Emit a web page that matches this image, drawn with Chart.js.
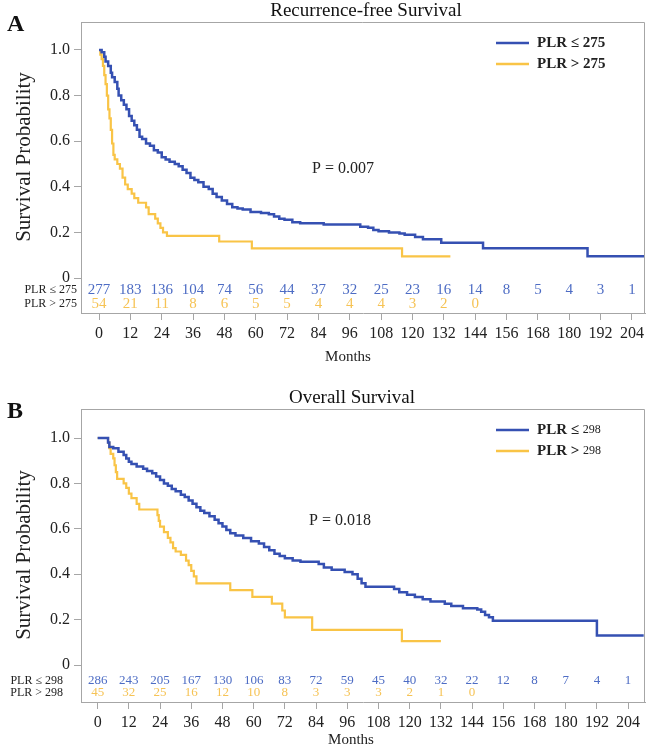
<!DOCTYPE html>
<html><head><meta charset="utf-8">
<script src="https://cdn.jsdelivr.net/npm/chart.js@4"></script>
<style>
html,body{margin:0;padding:0;background:#fff;}
#wrap{position:relative;width:652px;height:750px;overflow:hidden;}
canvas{position:absolute;left:0;}
</style></head><body>
<div id="wrap">
<canvas id="cA" width="652" height="375" style="top:0px"></canvas>
<canvas id="cB" width="652" height="375" style="top:375px"></canvas>
</div>
<script>
// ---------- DATA ----------
const monthTicks = [0,12,24,36,48,60,72,84,96,108,120,132,144,156,168,180,192,204];
const probTicks = [0,0.2,0.4,0.6,0.8,1.0];

// Panel A: Recurrence-free survival
const rfsLowTime = [0,1,2,2.5,3.5,4.5,5,6,7,7.5,8.5,9.5,10.5,11.5,12.5,13.5,14.5,15.5,16.5,18,19.5,21,22.5,24,25.5,27,29,30.5,32,33.5,35,36.5,38,40,42,43.5,45,47,49,51,53,55,58,62,65,67,69,71,74,77,86,100,103,105,107,111,115,117,121,124,131,147,187,209.5];
const rfsLowSurv = [1.0,0.99,0.97,0.95,0.93,0.90,0.88,0.86,0.83,0.80,0.78,0.76,0.74,0.71,0.69,0.67,0.65,0.62,0.61,0.59,0.58,0.56,0.55,0.53,0.52,0.51,0.50,0.49,0.475,0.46,0.44,0.43,0.42,0.40,0.39,0.37,0.355,0.34,0.325,0.31,0.305,0.30,0.29,0.285,0.28,0.27,0.26,0.255,0.245,0.24,0.235,0.225,0.22,0.21,0.205,0.20,0.195,0.19,0.18,0.17,0.155,0.13,0.095,0.095];
const rfsHighTime = [0,0.5,1,1.5,2,2.5,3,3.5,4,4.5,5,5.5,6,7,8,9,10,11,12.5,13.5,15,18,19,21.5,22.5,23.5,24.5,26,46,58.5,116,134.5];
const rfsHighSurv = [1.0,0.98,0.96,0.93,0.89,0.85,0.80,0.74,0.70,0.65,0.59,0.54,0.52,0.50,0.48,0.44,0.41,0.39,0.37,0.35,0.33,0.31,0.28,0.26,0.24,0.22,0.20,0.185,0.16,0.13,0.095,0.095];
const rfsLowRisk = [277,183,136,104,74,56,44,37,32,25,23,16,14,8,5,4,3,1];
const rfsHighRisk = [54,21,11,8,6,5,5,4,4,4,3,2,0];

// Panel B: Overall survival
const osLowTime = [0,4,4.5,6,8,10,11,12,13,15,17.5,19,21,22.5,24,25.5,27,28.5,30,32,33.5,35,36.5,38,39.5,41,43,45,46.5,48,49.5,51,53,56,59,62,64,66,68,70,72,75,78,85,87,90,95,98,100,101.5,103,114,116,119,122,125,128,133.5,136,140.5,146,147.5,149,150.5,152,192,210];
const osLowSurv = [1.0,0.98,0.96,0.955,0.94,0.925,0.91,0.895,0.885,0.875,0.865,0.855,0.845,0.83,0.815,0.80,0.79,0.775,0.765,0.75,0.74,0.725,0.71,0.695,0.68,0.67,0.655,0.64,0.625,0.61,0.595,0.58,0.57,0.56,0.545,0.535,0.52,0.505,0.49,0.48,0.47,0.46,0.455,0.445,0.43,0.42,0.41,0.40,0.38,0.36,0.345,0.335,0.32,0.31,0.30,0.29,0.28,0.27,0.26,0.25,0.245,0.235,0.22,0.21,0.195,0.13,0.13];
const osHighTime = [0,4,4.5,5,6,6.5,7,7.5,10,11,12,13,15,16,23,23.5,24,25.5,27,28,29,30,32,34,35,36,37,38,51,59.5,67,71,72,82.5,117,132];
const osHighSurv = [1.0,0.98,0.955,0.93,0.91,0.88,0.85,0.82,0.80,0.78,0.755,0.735,0.71,0.685,0.66,0.635,0.61,0.585,0.56,0.54,0.515,0.50,0.485,0.46,0.44,0.415,0.39,0.36,0.33,0.30,0.27,0.24,0.21,0.155,0.105,0.105];
const osLowRisk = [286,243,205,167,130,106,83,72,59,45,40,32,22,12,8,7,4,1];
const osHighRisk = [45,32,25,16,12,10,8,3,3,3,2,1,0];

// ---------- STYLE ----------
const SERIF = "'Liberation Serif','DejaVu Serif',serif";
const BLUE = '#3550b2';
const YELLOW = '#f9c446';
const BLUE_TXT = '#4d6cc4';
const YELLOW_TXT = '#f6c355';
const AXIS = '#a6a6a6';

function pts(t, s){ return t.map((v,i)=>({x:v, y:s[i]})); }

const panelPlugin = {
  id: 'panelPlugin',
  afterDraw(chart, args, o){
    const {ctx, chartArea:a, scales:{x, y}} = chart;
    ctx.save();
    // box top/right
    ctx.strokeStyle = AXIS; ctx.lineWidth = 1;
    ctx.beginPath();
    ctx.moveTo(a.left, a.top+0.5); ctx.lineTo(a.right-0.5, a.top+0.5); ctx.lineTo(a.right-0.5, a.bottom);
    ctx.stroke();
    // panel letter
    ctx.fillStyle = '#111';
    ctx.font = 'bold 24px ' + SERIF;
    ctx.textAlign = 'left'; ctx.textBaseline = 'middle';
    ctx.fillText(o.letter, 7, o.letterY);
    // title
    ctx.font = '19px ' + SERIF;
    ctx.textAlign = 'center';
    ctx.fillText(o.title, o.titleX, o.titleY);
    // y axis title
    ctx.save();
    ctx.translate(24, o.yTitleY);
    ctx.rotate(-Math.PI/2);
    ctx.font = '21px ' + SERIF;
    ctx.fillStyle = '#222';
    ctx.textAlign = 'center'; ctx.textBaseline = 'middle';
    ctx.fillText('Survival Probability', 0, 0);
    ctx.restore();
    // x axis title
    ctx.font = '15px ' + SERIF; ctx.fillStyle = '#222';
    ctx.textAlign = 'center';
    ctx.fillText('Months', o.monthsX, o.monthsY);
    // P value
    ctx.font = '16px ' + SERIF; ctx.fillStyle = '#222';
    ctx.fillText(o.pText, o.pX, o.pY);
    // legend
    const ds = chart.data.datasets;
    o.legendY.forEach((ly, i) => {
      ctx.strokeStyle = ds[i].borderColor; ctx.lineWidth = 2.5;
      ctx.beginPath(); ctx.moveTo(496, ly); ctx.lineTo(529, ly); ctx.stroke();
      ctx.fillStyle = '#222';
      ctx.textAlign = 'left';
      ctx.font = 'bold 15px ' + SERIF;
      const lbl = o.legendLabels[i];
      ctx.fillText(lbl[0], 537, ly);
      const w = ctx.measureText(lbl[0]).width;
      ctx.font = o.legendNumFont;
      ctx.fillText(lbl[1], 537 + w, ly);
    });
    // numbers at risk
    ctx.textAlign = 'center'; ctx.textBaseline = 'middle';
    ctx.font = o.riskFont;
    o.risk.forEach((row, r) => {
      ctx.fillStyle = r === 0 ? BLUE_TXT : YELLOW_TXT;
      const ry = a.bottom - o.riskOffsets[r];
      row.forEach((n, i) => ctx.fillText(String(n), x.getPixelForValue(monthTicks[i]), ry));
    });
    // row labels
    ctx.font = o.rowLabelFont; ctx.fillStyle = '#222'; ctx.textAlign = 'right';
    o.rowLabels.forEach((t, r) => ctx.fillText(t, o.rowLabelRight, a.bottom - o.riskOffsets[r]));
    ctx.restore();
  }
};

function makeChart(id, cfg){
  return new Chart(document.getElementById(id), {
    type: 'line',
    data: {
      datasets: [
        {data: pts(cfg.lowT, cfg.lowS), borderColor: BLUE, borderWidth: 2.5, stepped: true, pointRadius: 0, fill: false},
        {data: pts(cfg.highT, cfg.highS), borderColor: YELLOW, borderWidth: 2.2, stepped: true, pointRadius: 0, fill: false}
      ]
    },
    options: {
      responsive: false, animation: false, devicePixelRatio: 1,
      layout: {padding: {left: 36, right: 7, top: cfg.top, bottom: cfg.bottom}},
      plugins: {legend: {display: false}, tooltip: {enabled: false}, panelPlugin: cfg.plugin},
      scales: {
        x: {
          type: 'linear', min: cfg.xMin, max: cfg.xMax,
          afterBuildTicks: s => { s.ticks = monthTicks.map(v => ({value: v})); },
          afterFit: s => { s.height = 40; },
          ticks: {font: {family: SERIF, size: 16}, color: '#222', padding: 4, maxRotation: 0, autoSkip: false},
          grid: {drawOnChartArea: false, drawTicks: true, tickLength: 7, color: AXIS},
          border: {display: true, color: AXIS}
        },
        y: {
          type: 'linear', min: cfg.yMin, max: cfg.yMax,
          afterBuildTicks: s => { s.ticks = probTicks.map(v => ({value: v})); },
          afterFit: s => { s.width = 45; },
          ticks: {font: {family: SERIF, size: 16}, color: '#222', padding: 4,
                  callback: v => v === 0 ? '0' : v.toFixed(1)},
          grid: {drawOnChartArea: false, drawTicks: true, tickLength: 7, color: AXIS},
          border: {display: true, color: AXIS}
        }
      }
    },
    plugins: [panelPlugin]
  });
}

makeChart('cA', {
  lowT: rfsLowTime, lowS: rfsLowSurv, highT: rfsHighTime, highS: rfsHighSurv,
  top: 22, bottom: 22, xMin: -6.9, xMax: 209, yMin: -0.1535, yMax: 1.1228,
  plugin: {
    letter: 'A', letterY: 25, title: 'Recurrence-free Survival', titleX: 366, titleY: 11,
    yTitleY: 157, monthsX: 348, monthsY: 357, pText: 'P = 0.007', pX: 343, pY: 169,
    legendY: [43, 64], legendLabels: [['PLR \u2264 275',''],['PLR > 275','']], legendNumFont: 'bold 15px ' + SERIF,
    risk: [rfsLowRisk, rfsHighRisk], riskOffsets: [23, 9], riskFont: '15px ' + SERIF,
    rowLabels: ['PLR \u2264 275', 'PLR > 275'], rowLabelRight: 77, rowLabelFont: '12px ' + SERIF
  }
});

makeChart('cB', {
  lowT: osLowTime, lowS: osLowSurv, highT: osHighTime, highS: osHighSurv,
  top: 34, bottom: 8, xMin: -6.4, xMax: 210.5, yMin: -0.163, yMax: 1.1278,
  plugin: {
    letter: 'B', letterY: 37, title: 'Overall Survival', titleX: 352, titleY: 23,
    yTitleY: 180, monthsX: 351, monthsY: 365, pText: 'P = 0.018', pX: 340, pY: 146,
    legendY: [55, 76], legendLabels: [['PLR \u2264 ','298'],['PLR > ','298']], legendNumFont: '12px ' + SERIF,
    risk: [osLowRisk, osHighRisk], riskOffsets: [21, 9], riskFont: '13px ' + SERIF,
    rowLabels: ['PLR \u2264 298', 'PLR > 298'], rowLabelRight: 63, rowLabelFont: '12px ' + SERIF
  }
});
</script>
</body></html>
